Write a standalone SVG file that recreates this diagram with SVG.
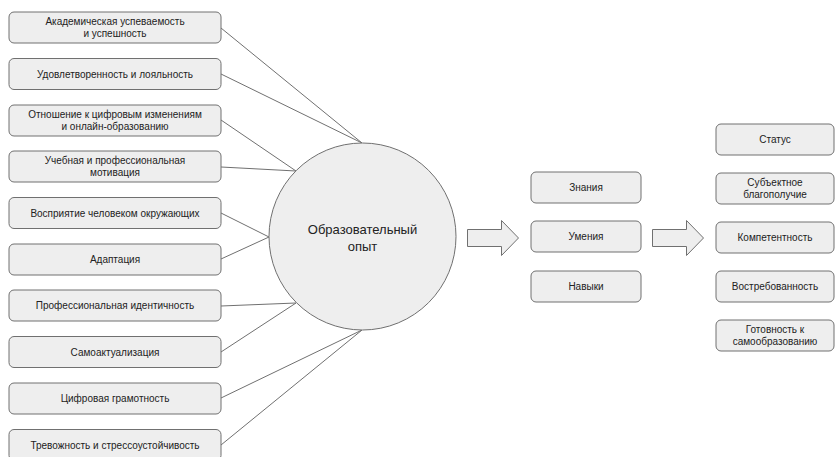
<svg xmlns="http://www.w3.org/2000/svg" width="835" height="457" viewBox="0 0 835 457">
<style>
.box{fill:#eeeeee;stroke:#707070;stroke-width:1}
.t{font-family:"Liberation Sans",Arial,sans-serif;font-size:10px;fill:#222;text-anchor:middle}
.big{font-family:"Liberation Sans",Arial,sans-serif;font-size:13px;fill:#222;text-anchor:middle}
.ln{stroke:#707070;stroke-width:1;fill:none}
</style>
<rect width="835" height="457" fill="#ffffff"/>
<g id="connectors">
<line class="ln" x1="221" y1="28" x2="362" y2="143"/>
<line class="ln" x1="221" y1="74" x2="362" y2="143"/>
<line class="ln" x1="221" y1="120" x2="296" y2="171"/>
<line class="ln" x1="221" y1="167" x2="296" y2="171"/>
<line class="ln" x1="221" y1="213" x2="269" y2="237"/>
<line class="ln" x1="221" y1="259" x2="269" y2="237"/>
<line class="ln" x1="221" y1="306" x2="296" y2="303"/>
<line class="ln" x1="221" y1="352" x2="296" y2="303"/>
<line class="ln" x1="221" y1="398" x2="362" y2="330"/>
<line class="ln" x1="221" y1="445" x2="362" y2="330"/>
</g>
<g id="n1"><rect class="box" x="9" y="12" width="212" height="31" rx="5"/><text class="t" x="115" y="25">Академическая успеваемость</text><text class="t" x="115" y="37">и успешность</text></g>
<g id="n2"><rect class="box" x="9" y="58.5" width="212" height="31" rx="5"/><text class="t" x="115" y="77.5">Удовлетворенность и лояльность</text></g>
<g id="n3"><rect class="box" x="9" y="105" width="212" height="31" rx="5"/><text class="t" x="115" y="118">Отношение к цифровым изменениям</text><text class="t" x="115" y="130">и онлайн-образованию</text></g>
<g id="n4"><rect class="box" x="9" y="151" width="212" height="31" rx="5"/><text class="t" x="115" y="164">Учебная и профессиональная</text><text class="t" x="115" y="176">мотивация</text></g>
<g id="n5"><rect class="box" x="9" y="197.5" width="212" height="31" rx="5"/><text class="t" x="115" y="216.5">Восприятие человеком окружающих</text></g>
<g id="n6"><rect class="box" x="9" y="244" width="212" height="31" rx="5"/><text class="t" x="115" y="263">Адаптация</text></g>
<g id="n7"><rect class="box" x="9" y="290" width="212" height="31" rx="5"/><text class="t" x="115" y="309">Профессиональная идентичность</text></g>
<g id="n8"><rect class="box" x="9" y="336.5" width="212" height="31" rx="5"/><text class="t" x="115" y="355.5">Самоактуализация</text></g>
<g id="n9"><rect class="box" x="9" y="383" width="212" height="31" rx="5"/><text class="t" x="115" y="402">Цифровая грамотность</text></g>
<g id="n10"><rect class="box" x="9" y="429.5" width="212" height="31" rx="5"/><text class="t" x="115" y="448.5">Тревожность и стрессоустойчивость</text></g>
<g id="center"><circle cx="362.5" cy="236.5" r="93.5" fill="#eeeeee" stroke="#707070" stroke-width="1"/><text class="big" x="362.5" y="234">Образовательный</text><text class="big" x="362.5" y="251">опыт</text></g>
<g id="arrow1"><path d="M467.5 229.5 H501.5 V220.5 L518.5 238 L501.5 255.5 V246.5 H467.5 Z" fill="#eeeeee" stroke="#707070" stroke-width="1"/></g>
<g id="m1"><rect class="box" x="531" y="172" width="110" height="31" rx="5"/><text class="t" x="586" y="191">Знания</text></g>
<g id="m2"><rect class="box" x="531" y="221" width="110" height="31" rx="5"/><text class="t" x="586" y="240">Умения</text></g>
<g id="m3"><rect class="box" x="531" y="271" width="110" height="31" rx="5"/><text class="t" x="586" y="290">Навыки</text></g>
<g id="arrow2"><path d="M652.5 229.5 H686.5 V220.5 L703.5 238 L686.5 255.5 V246.5 H652.5 Z" fill="#eeeeee" stroke="#707070" stroke-width="1"/></g>
<g id="r1"><rect class="box" x="716" y="124" width="118" height="31" rx="5"/><text class="t" x="775" y="143">Статус</text></g>
<g id="r2"><rect class="box" x="716" y="173" width="118" height="31" rx="5"/><text class="t" x="775" y="186">Субъектное</text><text class="t" x="775" y="198">благополучие</text></g>
<g id="r3"><rect class="box" x="716" y="222" width="118" height="31" rx="5"/><text class="t" x="775" y="241">Компетентность</text></g>
<g id="r4"><rect class="box" x="716" y="271" width="118" height="31" rx="5"/><text class="t" x="775" y="290">Востребованность</text></g>
<g id="r5"><rect class="box" x="716" y="320" width="118" height="31" rx="5"/><text class="t" x="775" y="333">Готовность к</text><text class="t" x="775" y="345">самообразованию</text></g>
</svg>
